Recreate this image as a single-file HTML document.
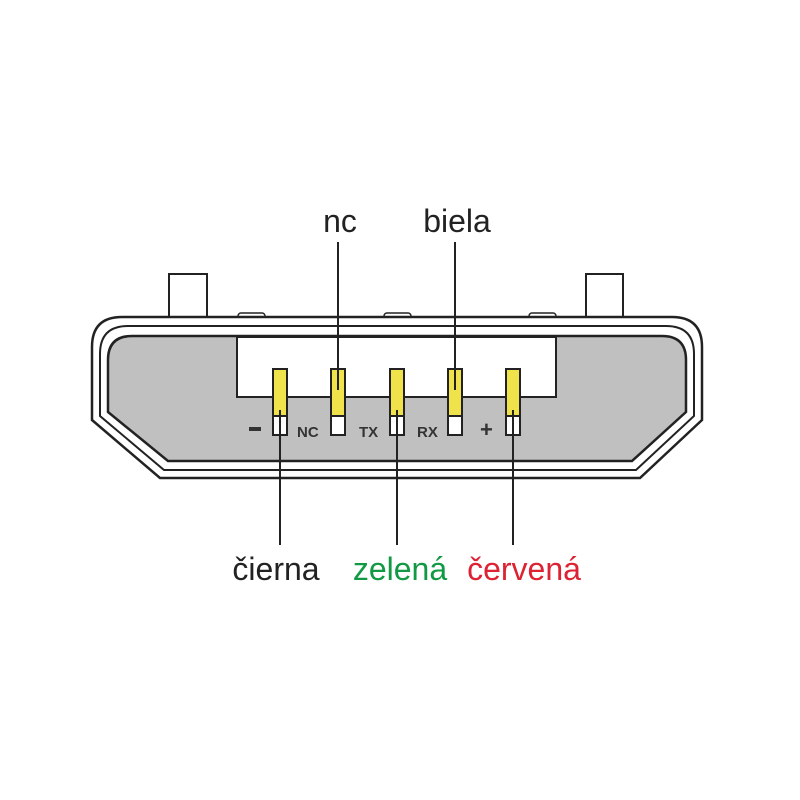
<!DOCTYPE html>
<html><head><style>
body{margin:0;background:#fff;}
svg{display:block}
</style></head><body>
<svg width="800" height="800" viewBox="0 0 800 800" xmlns="http://www.w3.org/2000/svg">
<rect width="800" height="800" fill="#fff"/>
<!-- posts -->
<rect x="169" y="274" width="38" height="44" fill="#fff" stroke="#222" stroke-width="2"/>
<rect x="586" y="274" width="37" height="44" fill="#fff" stroke="#222" stroke-width="2"/>
<!-- bumps -->
<rect x="238" y="313" width="27" height="6" rx="3" fill="#fff" stroke="#222" stroke-width="1.5"/>
<rect x="384" y="313" width="27" height="6" rx="3" fill="#fff" stroke="#222" stroke-width="1.5"/>
<rect x="529" y="313" width="27" height="6" rx="3" fill="#fff" stroke="#222" stroke-width="1.5"/>
<!-- shell outer -->
<path d="M122 317 H672 Q702 317 702 347 V420 L640 478 H160 L92 420 V347 Q92 317 122 317 Z" fill="#fff" stroke="#222" stroke-width="2.5"/>
<path d="M128 326 H666 Q694 326 694 354 V416 L636 470 H164 L100 416 V354 Q100 326 128 326 Z" fill="none" stroke="#222" stroke-width="2"/>
<!-- gray -->
<path d="M132 336 H662 Q686 336 686 360 V412 L632 461 H168 L108 412 V360 Q108 336 132 336 Z" fill="#c0c0c0" stroke="#222" stroke-width="2.5"/>
<!-- white rect -->
<rect x="237" y="337" width="319" height="60" fill="#fff" stroke="#222" stroke-width="2"/>
<!-- pins -->
<g stroke="#222" stroke-width="2">
<rect x="273" y="369" width="14" height="47" fill="#f0e24a"/>
<rect x="273" y="416" width="14" height="19" fill="#fff"/>
<rect x="331" y="369" width="14" height="47" fill="#f0e24a"/>
<rect x="331" y="416" width="14" height="19" fill="#fff"/>
<rect x="390" y="369" width="14" height="47" fill="#f0e24a"/>
<rect x="390" y="416" width="14" height="19" fill="#fff"/>
<rect x="448" y="369" width="14" height="47" fill="#f0e24a"/>
<rect x="448" y="416" width="14" height="19" fill="#fff"/>
<rect x="506" y="369" width="14" height="47" fill="#f0e24a"/>
<rect x="506" y="416" width="14" height="19" fill="#fff"/>
</g>
<!-- leader lines -->
<g stroke="#222" stroke-width="2">
<line x1="338" y1="242" x2="338" y2="390"/>
<line x1="455" y1="242" x2="455" y2="390"/>
<line x1="280" y1="410" x2="280" y2="545"/>
<line x1="397" y1="410" x2="397" y2="545"/>
<line x1="513" y1="410" x2="513" y2="545"/>
</g>
<!-- pin labels -->
<g font-family="Liberation Sans, sans-serif" font-weight="bold" font-size="15" fill="#333">
<rect x="249" y="427" width="12" height="4" fill="#333"/>
<text x="297" y="437">NC</text>
<text x="359" y="437">TX</text>
<text x="417" y="437">RX</text>
<text x="480" y="437" font-size="22">+</text>
</g>
<g font-family="Liberation Sans, sans-serif" font-size="32" text-anchor="middle">
<text x="340" y="232" fill="#222">nc</text>
<text x="457" y="232" fill="#222">biela</text>
<text x="276" y="580" fill="#222">čierna</text>
<text x="400" y="580" fill="#119944">zelená</text>
<text x="524" y="580" fill="#dd2233">červená</text>
</g>
</svg>
</body></html>
